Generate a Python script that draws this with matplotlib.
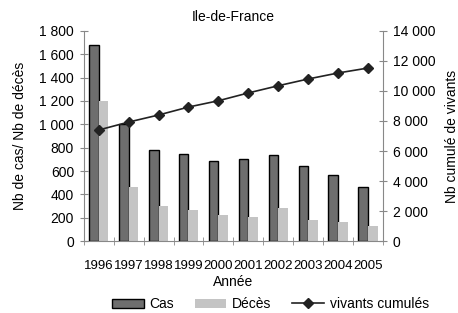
import matplotlib.pyplot as plt
import matplotlib.ticker as mticker
from matplotlib.lines import Line2D
from matplotlib.patches import Patch
import numpy as np

annees = ['1996', '1997', '1998', '1999', '2000', '2001', '2002', '2003', '2004', '2005']
cas = [1680, 1000, 780, 745, 690, 700, 735, 645, 570, 465]
deces = [1200, 460, 300, 265, 220, 210, 280, 180, 160, 125]
vivants = [7400, 7930, 8400, 8930, 9350, 9870, 10350, 10800, 11200, 11530]

plt.rcParams['font.family'] = ['Liberation Sans', 'DejaVu Sans']

def espace(v, pos):
    return '{:,.0f}'.format(v).replace(',', ' ')

fig = plt.figure(figsize=(4.58, 3.13), dpi=100)
ax = fig.add_axes([0.183, 0.230, 0.653, 0.671])
x = np.arange(len(annees))
w = 0.32
ax.bar(x - w/2, cas, w, color='#6e6e6e', edgecolor='black', linewidth=1.0, zorder=2)
ax.bar(x + w/2, deces, w, color='#c4c4c4', edgecolor='none', zorder=2)
ax.set_xlim(-0.5, len(annees) - 0.5)
ax.set_ylim(0, 1800)
ax.yaxis.set_major_locator(mticker.MultipleLocator(200))
ax.yaxis.set_major_formatter(mticker.FuncFormatter(espace))

ax2 = ax.twinx()
ax2.plot(x, vivants, color='#222222', marker='D', markersize=5, linewidth=1.2, zorder=3)
ax2.set_ylim(0, 14000)
ax2.yaxis.set_major_locator(mticker.MultipleLocator(2000))
ax2.yaxis.set_major_formatter(mticker.FuncFormatter(espace))

for a in (ax, ax2):
    for s in a.spines.values():
        s.set_visible(False)
ax.spines['left'].set_visible(True)
ax.spines['bottom'].set_visible(True)
ax2.spines['right'].set_visible(True)
for s in (ax.spines['left'], ax.spines['bottom'], ax2.spines['right']):
    s.set_color('#888888')
    s.set_linewidth(0.8)

ax.tick_params(axis='y', direction='inout', length=6, color='#888888', labelsize=10, pad=4)
ax2.tick_params(axis='y', direction='inout', length=6, color='#888888', labelsize=10, pad=4)
ax.set_xticks(x)
ax.set_xticklabels(annees)
ax.set_xticks(np.arange(len(annees) + 1) - 0.5, minor=True)
ax.tick_params(axis='x', which='major', length=0, labelsize=9.5, pad=14)
ax.tick_params(axis='x', which='minor', direction='inout', length=6, color='#888888')

ax.set_ylabel('Nb de cas/ Nb de décès', fontsize=10, labelpad=9)
ax2.set_ylabel('Nb cumulé de vivants', fontsize=10, labelpad=7)
ax.set_xlabel('Année', fontsize=10, labelpad=2)
ax.set_title('Ile-de-France', fontsize=10, pad=7)

handles = [Patch(facecolor='#6e6e6e', edgecolor='black'),
           Patch(facecolor='#c4c4c4', edgecolor='none'),
           Line2D([], [], color='#222222', marker='D', markersize=5, linewidth=1.2)]
fig.legend(handles, ['Cas', 'Décès', 'vivants cumulés'], loc='center', bbox_to_anchor=(0.59, 0.028),
           ncol=3, frameon=False, fontsize=10, handlelength=2.3, columnspacing=1.5, handletextpad=0.4)

fig.savefig('out.png', dpi=100)
